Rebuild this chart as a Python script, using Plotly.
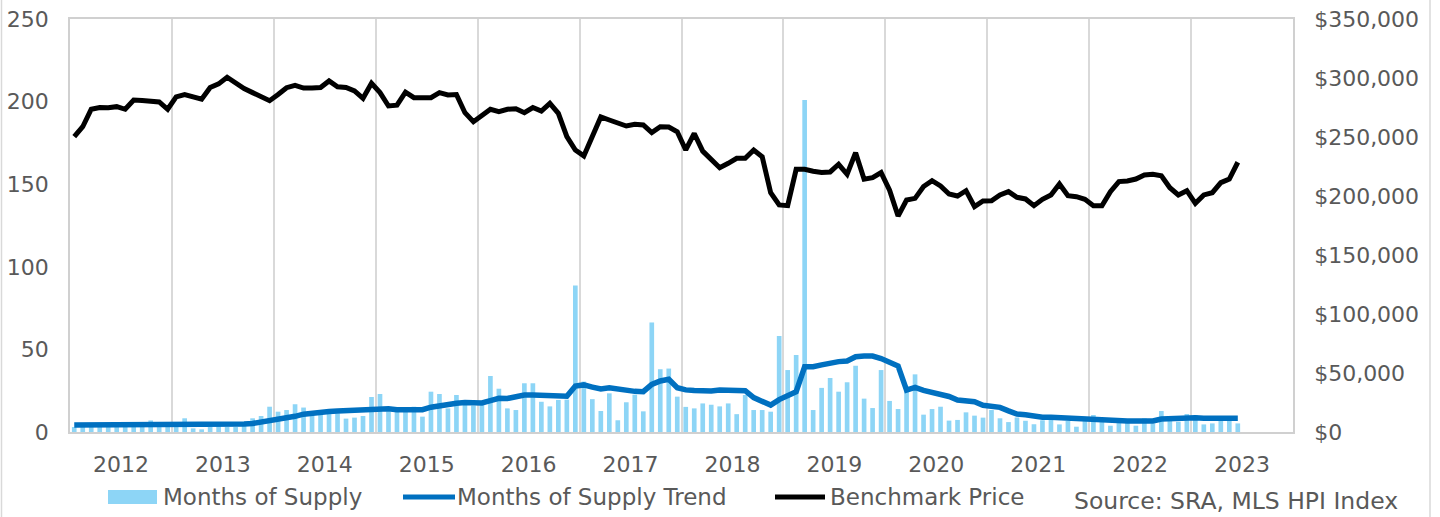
import numpy as np
import pandas as pd
import plotly.graph_objects as go

# monthly observations, Jul 2011 .. Dec 2022
months = pd.date_range("2011-07-01", periods=138, freq="MS")

months_of_supply = [
    3, 4, 3, 3, 4, 3, 4, 3, 4, 7, 3, 4,
    3, 8.3, 2.2, 1.6, 3, 4, 3, 3, 4, 8.3, 9.7, 15.3,
    12.3, 13.3, 16.8, 14.8, 11.5, 13.3, 12, 11.3, 8.1, 8.7, 9.7, 21.2,
    23, 12.5, 12.3, 12.3, 15.3, 9.3, 24.4, 23, 14.3, 22.4, 16.5, 16,
    16.3, 33.9, 26.2, 14.3, 13.3, 29.5, 29.5, 18.3, 15.5, 19.4, 19.6, 88.7,
    30.5, 19.9, 12.7, 23.4, 7.1, 18, 22.6, 12.5, 66.3, 38, 38.4, 21.4,
    15.2, 14.3, 17.3, 16.5, 15.5, 17.3, 10.8, 22.4, 13.3, 13.3, 12.3, 58.1,
    37.5, 46.6, 201, 13.3, 26.7, 32.7, 24.4, 30.1, 40.1, 20.2, 14.5, 37.5,
    18.8, 13.9, 25.5, 34.9, 10.5, 13.9, 15.3, 6.9, 7.3, 11.9, 9.9, 8.7,
    13.3, 8.3, 6, 8.8, 6.8, 4.7, 7.1, 7.5, 4.6, 6.7, 3.2, 7.9,
    10.3, 6.7, 3.8, 6.2, 6.7, 3.8, 8.3, 5.2, 12.7, 6.7, 6.2, 10.9,
    10.3, 4.6, 5.2, 6.7, 6.7, 5.2,
]

supply_trend = [
    4.2, 4.2, 4.1, 4.1, 4.2, 4.3, 4.2, 4.1, 4.1, 4.2, 4.3, 4.3,
    4.5, 4.7, 4.9, 4.9, 4.8, 4.8, 4.7, 4.8, 4.9, 5.2, 6.0, 7.0,
    7.6, 8.2, 9.5, 10.8, 11.5, 12.0, 12.4, 12.7, 12.9, 13.1, 13.2, 13.8,
    14.3, 14.0, 13.5, 13.3, 13.4, 13.5, 15.0, 16.0, 16.6, 17.4, 17.8, 17.5,
    17.6, 19.0, 20.4, 20.3, 21.5, 22.4, 22.4, 22.2, 22.0, 21.8, 21.6, 27.8,
    28.5, 27.2, 26.0, 26.8, 26.0, 25.0, 24.6, 24.4, 28.8, 30.9, 31.9, 26.8,
    25.5, 25.1, 24.6, 24.8, 25.4, 25.3, 25.0, 25.0, 20.8, 18.4, 16.3, 19.6,
    21.8, 24.4, 39.5, 39.5, 40.6, 41.8, 42.6, 43.0, 45.6, 46.0, 46.0, 44.5,
    42.5, 40.0, 25.4, 27.0, 25.2, 24.0, 23.4, 21.5, 19.4, 18.8, 18.3, 16.2,
    15.3, 14.9, 12.8, 10.9, 10.4, 9.6, 8.9, 8.9, 8.6, 8.3, 7.9, 7.5,
    7.2, 7.0, 6.8, 6.8, 6.7, 6.7, 6.7, 6.7, 7.9, 8.1, 8.6, 8.9,
    8.6, 8.3, 8.3, 8.3, 8.3, 8.3,
]

benchmark_price = [
    250300, 258700, 273500, 275000, 274800, 275700, 273500, 281400, 281000, 280800, 279700, 273500,
    284000, 286000, 283700, 282000, 292000, 295000, 300600, 295500, 291000, 287600, 283700, 280800,
    286000, 291800, 293800, 291500, 291500, 292000, 297500, 292600, 292000, 289000, 282800, 295500,
    287600, 276300, 277000, 288000, 283300, 283700, 283300, 287600, 285600, 286000, 270600, 263000,
    268000, 273500, 271500, 273500, 274000, 270600, 275000, 272000, 278500, 270000, 250300, 239000,
    234000, 250300, 267000, 264400, 261600, 259300, 260800, 260200, 253700, 258700, 258500, 254500,
    239000, 253000, 238000, 231000, 224000, 227700, 232000, 232000, 239000, 233300, 202800, 192400,
    191800, 222600, 222600, 221000, 220000, 220400, 226900, 218400, 236700, 214200, 215500, 219800,
    205000, 183000, 196600, 198000, 208000, 213000, 208500, 201700, 200000, 204500, 191000, 195800,
    196000, 200900, 203700, 198900, 197500, 191800, 197200, 200900, 210200, 200300, 199400, 197200,
    191800, 191800, 203700, 212200, 212700, 214400, 217800, 218400, 217200, 207000, 200900, 204500,
    193800, 200900, 202800, 211300, 214400, 228600,
]

year_labels = [str(y) for y in range(2012, 2024)]
supply_ticks = [0, 50, 100, 150, 200, 250]
price_ticks = list(range(0, 350001, 50000))

x = np.arange(len(months))
hover = [m.strftime("%b %Y") for m in months]

grey = "#595959"
line_grey = "#d9d9d9"
bar_blue = "#8dd5f6"
trend_blue = "#0070c0"
font = dict(family="DejaVu Sans, Verdana, sans-serif", size=22, color=grey)
legend_font = dict(font, size=23)

fig = go.Figure()
fig.add_trace(go.Bar(
    x=x, y=months_of_supply, name="Months of Supply", width=0.55,
    marker=dict(color=bar_blue, line=dict(width=0)), hovertext=hover,
))
fig.add_trace(go.Scatter(
    x=x, y=supply_trend, name="Months of Supply Trend", mode="lines",
    line=dict(color=trend_blue, width=5.5), hovertext=hover,
))
fig.add_trace(go.Scatter(
    x=x, y=benchmark_price, name="Benchmark Price", mode="lines", yaxis="y2",
    line=dict(color="#000000", width=5), hovertext=hover,
))

W, H = 1440, 517
L, R, T, B = 70, 147, 19, 85
pw, ph = W - L - R, H - T - B

def px_x(p):
    return (p - L) / pw

def px_y(p):
    return (H - B - p) / ph

# legend drawn by hand so the swatches get Excel-like widths
legend_y = 497
legend_items = [
    # (label, text start px, swatch kind, swatch x0, swatch x1, colour)
    ("Months of Supply", 163, "rect", 108, 157, bar_blue),
    ("Months of Supply Trend", 457, "line", 403, 455, trend_blue),
    ("Benchmark Price", 830, "line", 775, 825, "#000000"),
]

shapes = [
    dict(type="line", xref="paper", yref="paper", x0=px_x(1430), x1=px_x(1430),
         y0=px_y(H), y1=px_y(0), line=dict(color=line_grey, width=1.5)),
    dict(type="line", xref="paper", yref="paper", x0=px_x(1.5), x1=px_x(1.5),
         y0=px_y(H), y1=px_y(0), line=dict(color=line_grey, width=1.5)),
]
annotations = [dict(
    text="Source: SRA, MLS HPI Index", xref="paper", yref="paper",
    x=px_x(1400), y=px_y(501), xanchor="right", yanchor="middle",
    showarrow=False, font=dict(font, size=23.5),
)]
for label, tx, kind, s0, s1, col in legend_items:
    if kind == "rect":
        shapes.append(dict(type="rect", xref="paper", yref="paper",
                           x0=px_x(s0), x1=px_x(s1), y0=px_y(legend_y + 7), y1=px_y(legend_y - 7),
                           fillcolor=col, line=dict(width=0)))
    else:
        shapes.append(dict(type="line", xref="paper", yref="paper",
                           x0=px_x(s0), x1=px_x(s1), y0=px_y(legend_y), y1=px_y(legend_y),
                           line=dict(color=col, width=5)))
    annotations.append(dict(text=label, xref="paper", yref="paper",
                            x=px_x(tx), y=px_y(legend_y), xanchor="left", yanchor="middle",
                            showarrow=False, font=legend_font, xshift=-2))

fig.update_layout(
    width=W, height=H,
    margin=dict(l=L, r=R, t=T, b=B, autoexpand=False),
    paper_bgcolor="white", plot_bgcolor="white",
    font=font,
    bargap=0.45,
    showlegend=False,
    xaxis=dict(
        range=[-0.5, 143.5],
        tickmode="array",
        tickvals=[5.5 + 12 * k for k in range(len(year_labels))],
        ticktext=year_labels,
        ticks="", showgrid=False, zeroline=False, automargin=False,
        showline=True, linecolor="#d0d0d0", linewidth=2, mirror=True,
        ticklabelstandoff=12,
        minor=dict(tick0=-0.5, dtick=12, showgrid=True, gridcolor=line_grey, gridwidth=1.5, ticks=""),
    ),
    yaxis=dict(
        range=[0, 250], tickmode="array", tickvals=supply_ticks,
        ticktext=[str(v) for v in supply_ticks],
        showgrid=False, zeroline=False, ticks="", automargin=False,
        showline=True, linecolor="#d0d0d0", linewidth=1.5,
        ticklabelstandoff=15,
    ),
    yaxis2=dict(
        range=[0, 350000], tickmode="array", tickvals=price_ticks,
        ticktext=["${:,}".format(v) for v in price_ticks],
        overlaying="y", side="right", automargin=False,
        showgrid=False, zeroline=False, ticks="",
        showline=True, linecolor="#d0d0d0", linewidth=1.5,
        ticklabelstandoff=15,
    ),
    annotations=annotations,
    shapes=shapes,
)

# the page body has a default 8px margin; drop it so the figure fills the window
fig.write_html(
    "out.html",
    config={"displayModeBar": False},
    post_script="document.body.style.margin='0';document.body.style.overflow='hidden';",
)
